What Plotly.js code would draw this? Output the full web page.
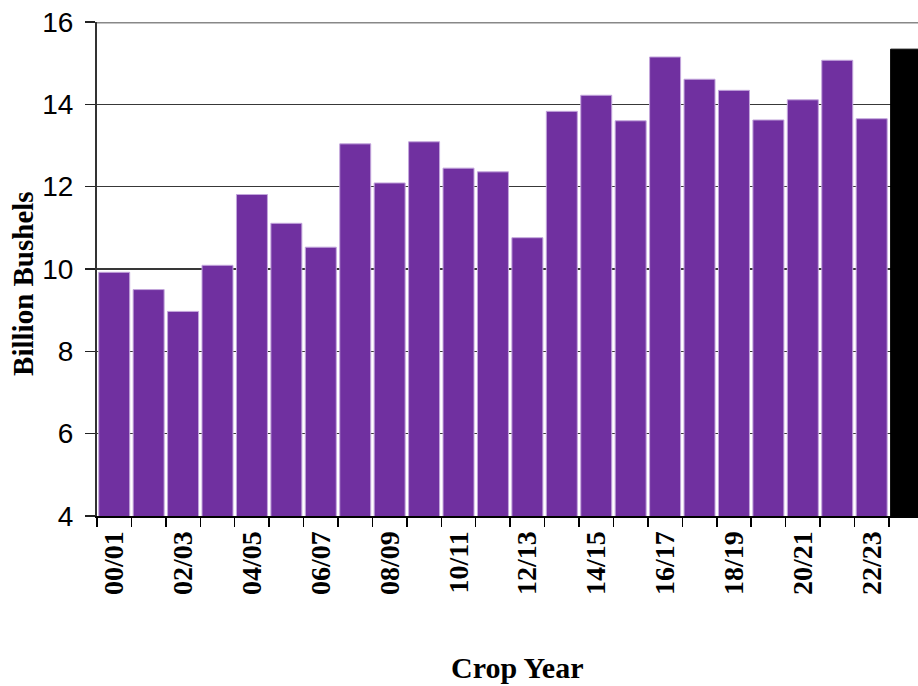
<!DOCTYPE html>
<html>
<head>
<meta charset="utf-8">
<script src="https://cdn.plot.ly/plotly-3.0.1.min.js"></script>
<style>html,body{margin:0;padding:0;background:#fff;}#chart{width:918px;height:686px;}</style>
</head>
<body>
<div id="chart"></div>
<script>
var cropYears = ["00/01","01/02","02/03","03/04","04/05","05/06","06/07","07/08","08/09","09/10","10/11","11/12","12/13","13/14","14/15","15/16","16/17","17/18","18/19","19/20","20/21","21/22","22/23","23/24"];
var production = [9.92, 9.50, 8.97, 10.09, 11.81, 11.11, 10.53, 13.04, 12.09, 13.09, 12.45, 12.36, 10.76, 13.83, 14.22, 13.60, 15.15, 14.61, 14.34, 13.62, 14.11, 15.07, 13.65, 15.34];
var tickLabels = ["00/01","","02/03","","04/05","","06/07","","08/09","","10/11","","12/13","","14/15","","16/17","","18/19","","20/21","","22/23",""];
var yTicks = [4, 6, 8, 10, 12, 14, 16];

var purple = "#7030A0";
var barColors = cropYears.map(function(c, i){ return i === cropYears.length - 1 ? "#000000" : purple; });
var lineColors = cropYears.map(function(c, i){ return i === cropYears.length - 1 ? "#000000" : "#c3a6dc"; });

var trace = {
  type: "bar",
  x: cropYears,
  y: production,
  marker: {color: barColors, line: {color: lineColors, width: 1}},
  hoverinfo: "x+y"
};

var layout = {
  width: 918, height: 686,
  margin: {l: 97, r: 0, t: 22, b: 170},
  paper_bgcolor: "#ffffff", plot_bgcolor: "#ffffff",
  bargap: 0.1,
  showlegend: false,
  xaxis: {
    type: "category",
    range: [-0.5, 23.345],
    tickmode: "array",
    tickvals: cropYears,
    ticktext: tickLabels,
    tickson: "boundaries",
    ticks: "outside", ticklen: 9, tickwidth: 1.5, tickcolor: "#000",
    tickangle: -90,
    ticklabelstandoff: 2,
    tickfont: {family: "Liberation Serif, Times New Roman, serif", size: 28, color: "#000", weight: "bold"},
    showline: true, linecolor: "#000", linewidth: 2,
    showgrid: false, zeroline: false, fixedrange: true
  },
  yaxis: {
    range: [4, 16],
    tickmode: "array",
    tickvals: yTicks,
    ticks: "outside", ticklen: 10, tickwidth: 1.5, tickcolor: "#222",
    ticklabelstandoff: 6,
    tickfont: {family: "Liberation Sans, Arial, sans-serif", size: 28, color: "#000"},
    showline: true, linecolor: "#333", linewidth: 2,
    showgrid: true, gridcolor: "#383838", gridwidth: 1.4,
    zeroline: false, fixedrange: true
  },
  shapes: [{
    type: "line", xref: "paper", yref: "y", x0: 0, x1: 1, y0: 16, y1: 16,
    line: {color: "#888888", width: 3}, layer: "above"
  }],
  annotations: [
    {text: "<b>Billion Bushels</b>", xref: "paper", yref: "paper", x: -0.09, y: 0.47,
     xanchor: "center", yanchor: "middle", textangle: -90, showarrow: false,
     font: {family: "Liberation Serif, Times New Roman, serif", size: 29, color: "#000"}},
    {text: "<b>Crop Year</b>", xref: "paper", yref: "paper", x: 0.512, y: -0.306,
     xanchor: "center", yanchor: "middle", showarrow: false,
     font: {family: "Liberation Serif, Times New Roman, serif", size: 30, color: "#000"}}
  ]
};

Plotly.newPlot("chart", [trace], layout, {displayModeBar: false, staticPlot: true});
</script>
</body>
</html>
